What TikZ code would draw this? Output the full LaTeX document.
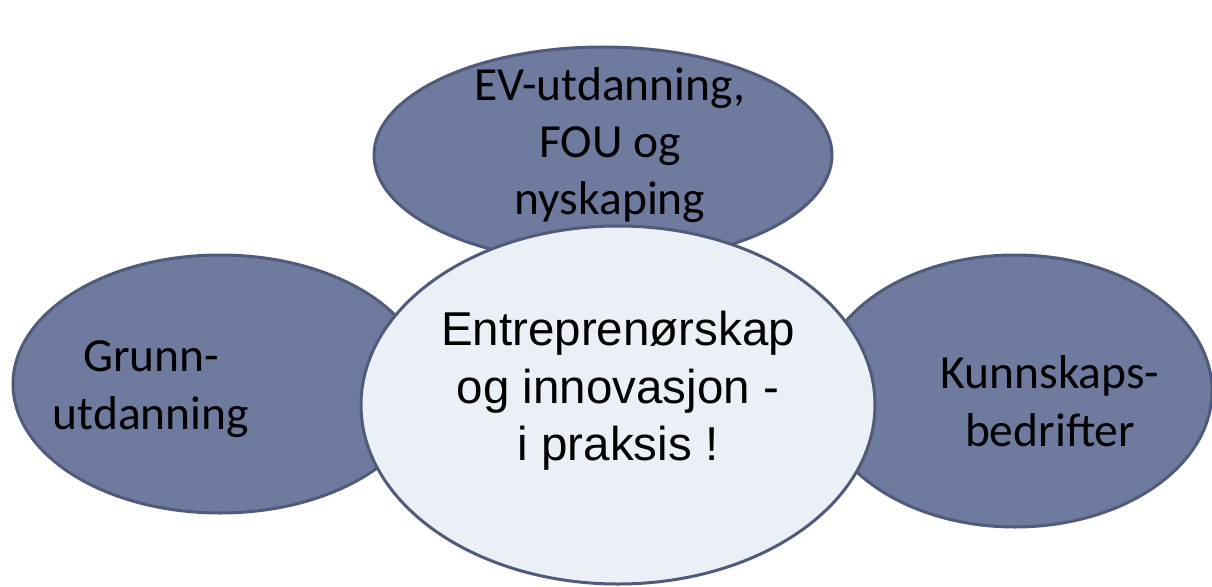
\documentclass[tikz,border=0pt]{standalone}
\usepackage{fontspec}
\setmainfont{Carlito}
\newfontfamily\arialf{Liberation Sans}
\usetikzlibrary{shapes.geometric}
\definecolor{ovfill}{RGB}{111,122,159}
\definecolor{ovline}{RGB}{80,90,122}
\definecolor{cfill}{RGB}{234,240,245}
\tikzset{
  oval/.style={ellipse, draw=ovline, line width=3pt, fill=ovfill, inner sep=0pt},
  coval/.style={oval, fill=cfill},
  lbl/.style={align=center, inner sep=0pt, text=black, font=\fontsize{47.5}{58}\selectfont},
  clbl/.style={align=center, inner sep=0pt, text=black, font=\arialf\fontsize{47.5}{57.5}\selectfont}
}
\begin{document}
\begin{tikzpicture}[x=1pt,y=-1pt]
\useasboundingbox (0,0) rectangle (1212,586);
\node[oval, minimum width=458pt, minimum height=216pt] (top) at (603,155) {};
\node[oval, minimum width=414pt, minimum height=258pt] (left) at (220,384) {};
\node[oval, minimum width=394pt, minimum height=272pt] (right) at (1015,391) {};
\node[coval, minimum width=514pt, minimum height=358pt] (mid) at (618,405) {};
\node[lbl, font=\fontsize{47.5}{57}\selectfont] (ttop) at (610,145) {EV-utdanning,\\FOU og\\nyskaping};
\node[lbl] (tleft) at (151,389) {Grunn-\\utdanning};
\node[lbl] (tright) at (1050,401) {Kunnskaps-\\bedrifter};
\node[clbl] (tmid) at (618,391) {Entreprenørskap\\og innovasjon -\\i praksis !};
\end{tikzpicture}
\end{document}
